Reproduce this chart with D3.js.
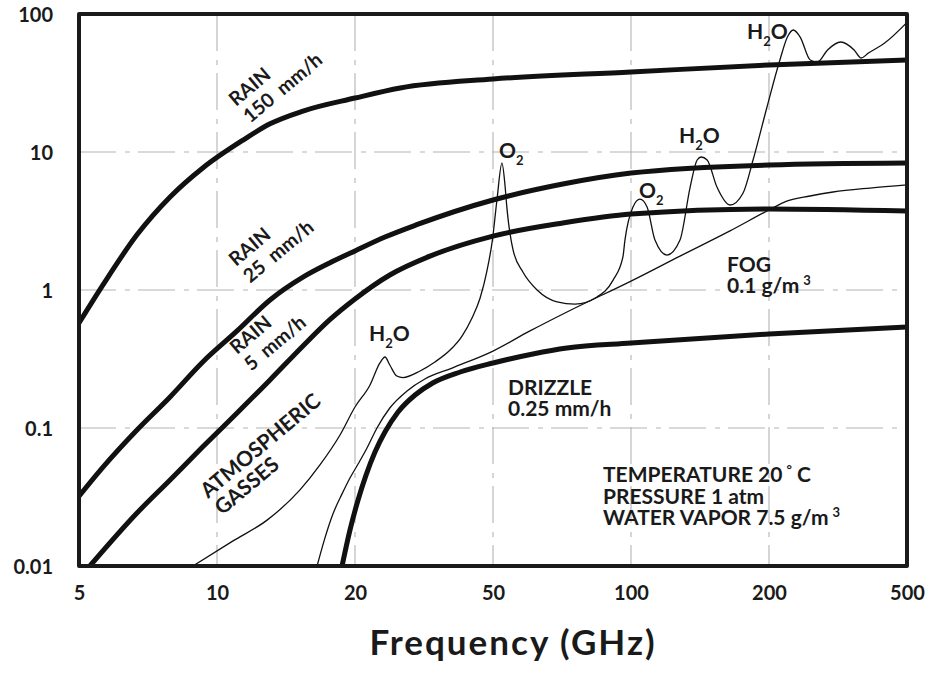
<!DOCTYPE html>
<html>
<head>
<meta charset="utf-8">
<script src="https://cdn.jsdelivr.net/npm/d3@7"></script>
<style>
  html, body { margin: 0; padding: 0; background: #fff; }
  svg { display: block; }
  text { font-family: Lato, "DejaVu Sans", sans-serif; fill: #1a1a1a; white-space: pre; }
</style>
</head>
<body>
<svg id="chart" width="929" height="681"></svg>
<script>
// ---------------- data ----------------
const xTicks = [5, 10, 20, 50, 100, 200, 500];
const xTickLabels = ["5", "10", "20", "50", "100", "200", "500"];
const yTicks = [0.01, 0.1, 1, 10, 100];
const yTickLabels = ["0.01", "0.1", "1", "10", "100"];
const xGrid = [10, 20, 50, 100, 200];
const yGrid = [0.1, 1, 10];

// frequency (GHz), attenuation (dB/km)
const rain150 = [[5,0.577],[5.64,1.09],[6.69,2.51],[7.9,4.72],[9.31,7.66],[11.4,12.2],[13.05,16.0],[15.4,19.8],[20,24.6],[27,29.1],[50,33.8],[100,38.0],[200,42.7],[500,46.4]];
const rain25 = [[5,0.0321],[5.64,0.0521],[6.69,0.0968],[7.9,0.168],[9.31,0.301],[11.06,0.505],[13.05,0.847],[15.4,1.24],[17.6,1.57],[20,1.92],[24.4,2.42],[30,2.96],[50,4.49],[71,5.86],[100,7.04],[200,8.05],[500,8.32]];
const rain5 = [[5.28,0.01],[6.69,0.0242],[7.9,0.042],[9.31,0.073],[11.06,0.1285],[13.05,0.223],[15.4,0.393],[17.6,0.607],[20,0.861],[25.2,1.285],[32.9,1.76],[50,2.46],[71,3.06],[100,3.55],[200,3.86],[500,3.73]];
const drizzle = [[18.74,0.01],[19.5,0.0182],[20.41,0.0301],[21.52,0.0456],[22.84,0.067],[24.4,0.0935],[26.62,0.1306],[29.8,0.1734],[33.5,0.212],[40.2,0.2546],[50,0.296],[61.1,0.344],[72.5,0.38],[100,0.413],[200,0.48],[500,0.54]];
const fog = [[16.53,0.01],[17.2,0.016],[17.9,0.0238],[18.74,0.0333],[19.5,0.0434],[20.41,0.0548],[21.66,0.0716],[23.14,0.1],[25.2,0.1396],[28.25,0.1854],[31.8,0.2265],[38.1,0.272],[50,0.361],[60.2,0.505],[72.5,0.693],[100,1.16],[127.9,1.76],[164.4,2.68],[200,3.8],[225,4.41],[262.6,4.8],[306,5.13],[391,5.48],[500,5.77]];
const gases = [[8.86,0.01],[10.84,0.0152],[12.86,0.0215],[15.17,0.0356],[16.77,0.054],[18.55,0.089],[20,0.142],[22.1,0.205],[23.6,0.296],[24.4,0.327],[25.2,0.286],[26.4,0.238],[27.5,0.232],[30.8,0.259],[34,0.301],[37.6,0.367],[40.7,0.464],[43.5,0.627],[45.9,0.875],[48.1,1.40],[49.8,2.30],[51.0,4.49],[52.3,8.3],[53.1,5.77],[53.6,3.99],[55.3,1.95],[58.1,1.35],[62.4,1.0],[69,0.82],[75.5,0.79],[84.3,0.89],[91.4,1.18],[96,1.73],[97,2.3],[101,4.0],[104.6,4.56],[108.4,4.0],[112.8,2.3],[119.8,1.79],[127.9,2.3],[134.6,5.57],[139.4,8.75],[142.3,9.2],[146.6,8.75],[154,5.57],[164.4,4.13],[175.6,5.05],[184.6,8.75],[198,21.2],[215,46.4],[226,68.1],[235,76.6],[246,68.1],[263,46.4],[276,44.9],[295,54.9],[322,62.7],[352,54.9],[369,48.0],[387,52.1],[431,61.6],[500,87]];

// ---------------- layout ----------------
const svg = d3.select("#chart");
const L = 79, R = 907, T = 14, B = 566;
const step = (R - L) / (xTicks.length - 1);
const x = d3.scaleLog().domain(xTicks).range(xTicks.map((d, i) => L + i * step));
const y = d3.scaleLog().domain([0.01, 100]).range([B, T]);

svg.append("defs").append("clipPath").attr("id", "plotclip")
  .append("rect").attr("x", L).attr("y", T).attr("width", R - L).attr("height", B - T);

// grid
const gridStyle = g => g.attr("stroke", "#b4b4b4").attr("stroke-width", 1.1).attr("stroke-dasharray", "37,9,5,8").attr("fill", "none");
svg.append("g").selectAll("line").data(xGrid).join("line")
  .attr("x1", d => x(d)).attr("x2", d => x(d)).attr("y1", T).attr("y2", B)
  .call(gridStyle);
svg.append("g").selectAll("line").data(yGrid).join("line")
  .attr("y1", d => y(d)).attr("y2", d => y(d)).attr("x1", L).attr("x2", R)
  .call(gridStyle);

// curves
const line = d3.line().x(d => x(d[0])).y(d => y(d[1])).curve(d3.curveMonotoneX);
const curves = svg.append("g").attr("clip-path", "url(#plotclip)");
[gases, fog].forEach(data => {
  curves.append("path").datum(data).attr("d", line)
    .attr("fill", "none").attr("stroke", "#111").attr("stroke-width", 1.3).attr("stroke-linejoin", "round");
});
[rain150, rain25, rain5, drizzle].forEach(data => {
  curves.append("path").datum(data).attr("d", line)
    .attr("fill", "none").attr("stroke", "#111").attr("stroke-width", 5).attr("stroke-linejoin", "round");
});

// frame
svg.append("rect").attr("x", L).attr("y", T).attr("width", R - L).attr("height", B - T)
  .attr("fill", "none").attr("stroke", "#1a1a1a").attr("stroke-width", 4).attr("stroke-linejoin", "round");

// axes labels (d3 axes, no tick lines)
const xAxis = d3.axisBottom(x).tickValues(xTicks).tickFormat((d, i) => xTickLabels[i]).tickSize(0).tickPadding(0);
const gx = svg.append("g").attr("transform", `translate(0,${B})`).call(xAxis);
gx.select(".domain").remove();
gx.selectAll("text").attr("y", 34).attr("dy", 0)
  .style("font-size", "20px").style("font-weight", 700).style("font-family", "Lato, sans-serif").attr("fill", "#1a1a1a");

const yAxis = d3.axisLeft(y).tickValues(yTicks).tickFormat((d, i) => yTickLabels[i]).tickSize(0).tickPadding(0);
const gy = svg.append("g").attr("transform", `translate(${L},0)`).call(yAxis);
gy.select(".domain").remove();
gy.selectAll("text").attr("x", -26).attr("dy", "0.36em")
  .style("font-size", "20px").style("font-weight", 700).style("font-family", "Lato, sans-serif").attr("fill", "#1a1a1a");

svg.append("text").attr("x", 513).attr("y", 655).attr("text-anchor", "middle")
  .style("font-size", "35px").style("font-weight", 700).style("letter-spacing", "2px").text("Frequency (GHz)");

// rotated curve labels (one text element, two lines)
function rotLabel(px, py, lines, fs) {
  const t = svg.append("text").attr("transform", `translate(${px},${py}) rotate(-40)`)
    .style("font-size", fs + "px").style("font-weight", 700);
  lines.forEach((s, i) => t.append("tspan").attr("x", 0).attr("y", i * 22).text(s));
}
rotLabel(236, 107, ["RAIN", "150  mm/h"], 19.5);
rotLabel(236, 267, ["RAIN", "25  mm/h"], 19.5);
rotLabel(237, 355, ["RAIN", "5  mm/h"], 19.5);
rotLabel(208, 499, ["ATMOSPHERIC", "GASSES"], 21);

// chemical labels with subscripts
function chem(px, py, parts) {
  const t = svg.append("text").attr("x", px).attr("y", py).style("font-size", "21px").style("font-weight", 700);
  let shifted = false;
  parts.forEach(([s, sub]) => {
    if (sub) { t.append("tspan").attr("dy", 7).style("font-size", "13px").text(s); shifted = true; }
    else { t.append("tspan").attr("dy", shifted ? -7 : 0).text(s); shifted = false; }
  });
}
chem(499, 158, [["O"], ["2", true]]);
chem(639, 198, [["O"], ["2", true]]);
chem(369, 341, [["H"], ["2", true], ["O"]]);
chem(679, 143, [["H"], ["2", true], ["O"]]);
chem(747, 39, [["H"], ["2", true], ["O"]]);

// annotation blocks (one text element each, lines as tspans)
function block(px, py, lines, lh) {
  const t = svg.append("text").attr("x", px).attr("y", py)
    .style("font-size", "21px").style("font-weight", 700);
  lines.forEach((parts, i) => {
    parts.forEach(([s, sup], j) => {
      const ts = t.append("tspan").text(s);
      if (j === 0) ts.attr("x", px).attr("y", py + i * lh);
      if (sup) ts.attr("dy", -8).attr("dx", 4).style("font-size", "13px");
      else if (j > 0 && parts[j - 1][1]) ts.attr("dy", 8);
    });
  });
}
block(727, 272, [[["FOG"]], [["0.1 g/m"], ["3", true]]], 21);
block(508, 395, [[["DRIZZLE"]], [["0.25 mm/h"]]], 21);
block(603, 482, [[["TEMPERATURE 20"], ["°", true], [" C"]], [["PRESSURE 1 atm"]], [["WATER VAPOR 7.5 g/m"], ["3", true]]], 21.5);
</script>
</body>
</html>
